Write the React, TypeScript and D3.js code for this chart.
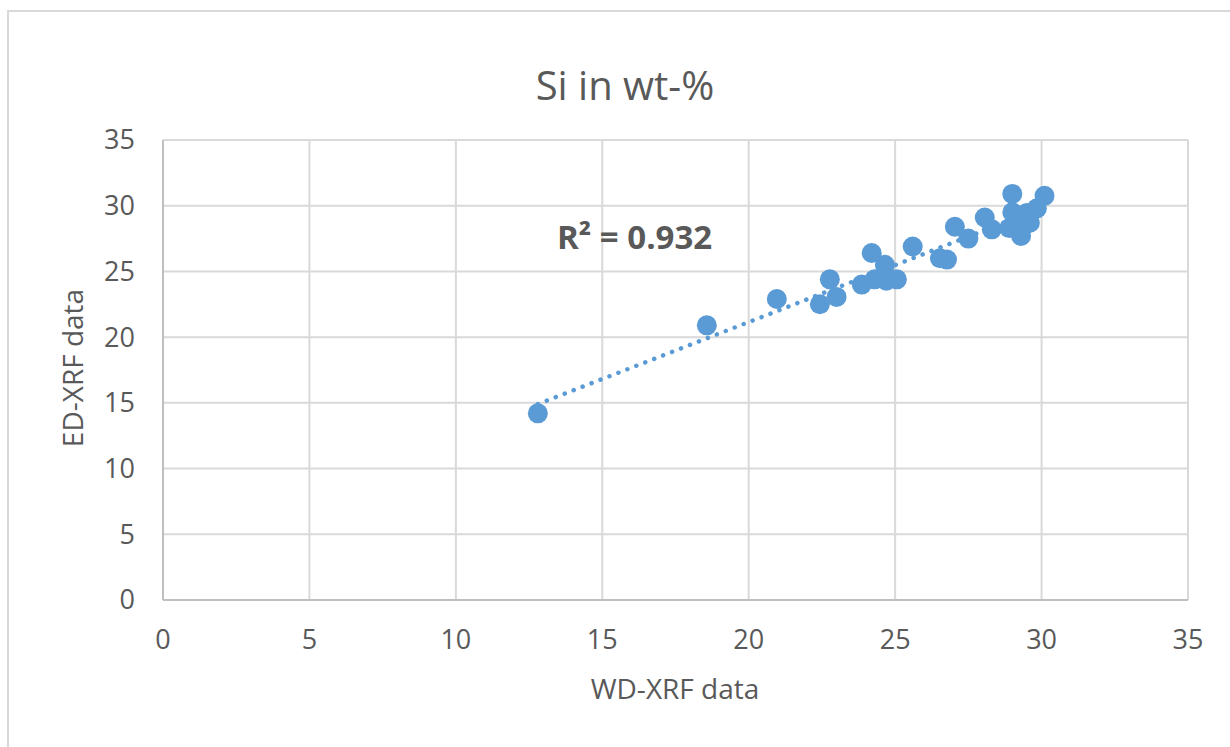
import React from "react";
import * as d3 from "d3";

const wdXrf: number[] = [
  12.8, 18.57, 20.96, 22.43, 23.0, 22.77, 24.2, 23.86, 24.3, 24.65, 25.06, 24.7,
  25.6, 26.53, 26.77, 27.04, 27.5, 28.06, 28.3, 29.0, 30.1, 29.84, 29.5, 29.0,
  29.4, 28.9, 29.3, 29.2, 29.6,
];
const edXrf: number[] = [
  14.2, 20.9, 22.9, 22.5, 23.06, 24.4, 26.4, 24.0, 24.4, 25.5, 24.4, 24.3,
  26.9, 26.0, 25.9, 28.4, 27.5, 29.1, 28.2, 30.9, 30.75, 29.8, 29.45, 29.5,
  28.5, 28.3, 27.7, 28.9, 28.7,
];
const xTicks: number[] = [0, 5, 10, 15, 20, 25, 30, 35];
const yTicks: number[] = [0, 5, 10, 15, 20, 25, 30, 35];
const titleText = "Si in wt-%";
const xTitle = "WD-XRF data";
const yTitle = "ED-XRF data";
const r2Label = "R² = 0.932";

export default function App() {
  const W = 1230, H = 747;
  const left = 163, right = 1188, top = 140, bottom = 600;
  const x = d3.scaleLinear().domain([0, 35]).range([left, right]);
  const y = d3.scaleLinear().domain([0, 35]).range([bottom, top]);

  const n = wdXrf.length;
  const mx = d3.mean(wdXrf) as number;
  const my = d3.mean(edXrf) as number;
  let sxy = 0, sxx = 0;
  for (let i = 0; i < n; i++) {
    sxy += (wdXrf[i] - mx) * (edXrf[i] - my);
    sxx += (wdXrf[i] - mx) ** 2;
  }
  const slope = sxy / sxx;
  const icpt = my - slope * mx;
  const x0 = d3.min(wdXrf) as number;
  const x1 = d3.max(wdXrf) as number;
  const line = d3.line<number>().x((v) => x(v)).y((v) => y(icpt + slope * v));

  const font = "'Open Sans', 'DejaVu Sans', sans-serif";
  const grey = "#595959";
  const pts = wdXrf.map((v, i) => [v, edXrf[i]]);

  return (
    <svg width={W} height={H} style={{ position: "absolute", left: 0, top: 0, background: "#fff" }}>
      <rect x={0} y={0} width={W} height={H} fill="#fff" />
      <rect x={8} y={11} width={W + 20} height={H + 20} fill="none" stroke="#d9d9d9" strokeWidth={2} />
      {xTicks.map((t) => (
        <line key={"gx" + t} x1={x(t)} x2={x(t)} y1={top} y2={bottom} stroke="#d9d9d9" strokeWidth={2} />
      ))}
      {yTicks.map((t) => (
        <line key={"gy" + t} x1={left} x2={right} y1={y(t)} y2={y(t)} stroke="#d9d9d9" strokeWidth={2} />
      ))}
      <line x1={left} x2={right} y1={bottom} y2={bottom} stroke="#bfbfbf" strokeWidth={2} />
      <line x1={left} x2={left} y1={top} y2={bottom} stroke="#bfbfbf" strokeWidth={2} />
      {yTicks.map((t) => (
        <text key={"ty" + t} x={135} y={y(t)} dy="0.35em" textAnchor="end" fontFamily={font} fontSize={27} fill={grey}>
          {t}
        </text>
      ))}
      {xTicks.map((t) => (
        <text key={"tx" + t} x={x(t)} y={649} textAnchor="middle" fontFamily={font} fontSize={27} fill={grey}>
          {t}
        </text>
      ))}
      <text x={625} y={100} textAnchor="middle" fontFamily={font} fontSize={40} fill={grey}>
        {titleText}
      </text>
      <text x={675} y={699} textAnchor="middle" fontFamily={font} fontSize={28} fill={grey}>
        {xTitle}
      </text>
      <text transform={`translate(83,368) rotate(-90)`} textAnchor="middle" fontFamily={font} fontSize={28} fill={grey}>
        {yTitle}
      </text>
      {pts.map((p, i) => (
        <circle key={"p" + i} cx={x(p[0])} cy={y(p[1])} r={10} fill="#5b9bd5" />
      ))}
      <path
        d={line([x0, x1]) || ""}
        fill="none"
        stroke="#5b9bd5"
        strokeWidth={4.5}
        strokeLinecap="round"
        strokeDasharray="0.1 9.5"
      />
      <text x={557} y={249} fontFamily={font} fontWeight="bold" fontSize={33} fill={grey}>
        {r2Label}
      </text>
    </svg>
  );
}
